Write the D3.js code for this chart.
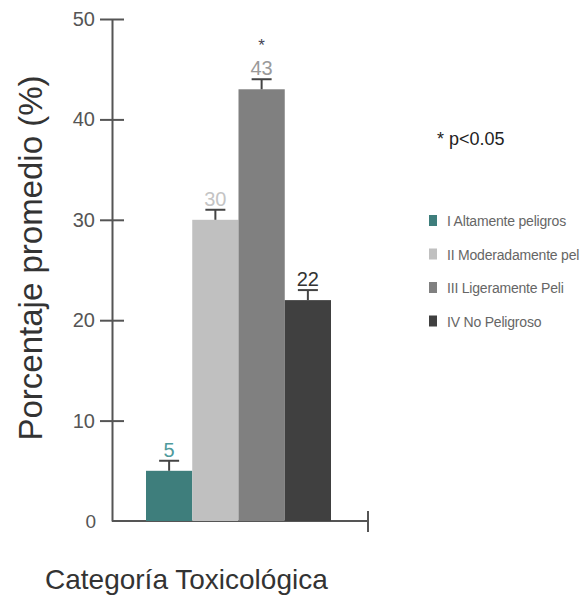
<!DOCTYPE html>
<html>
<head>
<meta charset="utf-8">
<script src="https://cdn.jsdelivr.net/npm/d3@7"></script>
<style>
  body { margin: 0; background: #fff; }
  text { font-family: Arial, "Liberation Sans", sans-serif; }
</style>
</head>
<body>
<script>
/* datos del grafico */
var categorias = ["I Altamente peligros", "II Moderadamente pel", "III Ligeramente Peli", "IV No Peligroso"];
var valores = [5, 30, 43, 22];
var errores = [1, 1, 1, 1];
var significativo = [false, false, true, false];
var yTicks = [10, 20, 30, 40, 50];

var colores = ["#3e7e7c", "#c0c0c0", "#808080", "#404040"];
var coloresEtiqueta = ["#4f9a9c", "#c4c4c4", "#9a9a9a", "#333333"];

var svg = d3.select("body")
            .append("svg")
            .attr("width", 581)
            .attr("height", 600);

var y = d3.scaleLinear().domain([0, 50]).range([521, 19]);
var x = d3.scaleBand().domain(categorias).range([146, 331]).padding(0);

/* eje y */
var ejeY = svg.append("g")
              .attr("transform", "translate(112,0)")
              .call(d3.axisLeft(y).tickValues(yTicks).tickSizeOuter(0).tickSizeInner(12).tickPadding(5));
ejeY.select(".domain").attr("stroke", "#555").attr("stroke-width", 2);
ejeY.selectAll(".tick line").attr("x1", -12).attr("x2", 12).attr("stroke", "#555").attr("stroke-width", 2);
ejeY.selectAll(".tick text")
    .attr("font-size", 20)
    .attr("fill", "#555")
    .style("font-family", "Arial, 'Liberation Sans', sans-serif");

/* etiqueta 0 sin tick */
svg.append("text")
   .attr("x", 96).attr("y", y(0) + 7)
   .attr("text-anchor", "end")
   .attr("font-size", 19)
   .attr("fill", "#555")
   .text("0");

/* eje x */
svg.append("line")
   .attr("x1", 112).attr("x2", 368)
   .attr("y1", y(0)).attr("y2", y(0))
   .attr("stroke", "#555").attr("stroke-width", 2);
svg.append("line")
   .attr("x1", 368).attr("x2", 368)
   .attr("y1", y(0) - 10).attr("y2", y(0) + 11)
   .attr("stroke", "#555").attr("stroke-width", 2);

/* barras */
svg.selectAll("rect.barra")
   .data(valores)
   .enter()
   .append("rect")
   .attr("class", "barra")
   .attr("x", function(d, i) { return x(categorias[i]); })
   .attr("y", function(d) { return y(d); })
   .attr("width", x.bandwidth())
   .attr("height", function(d) { return y(0) - y(d); })
   .attr("fill", function(d, i) { return colores[i]; });

/* barras de error */
var err = svg.selectAll("g.error")
             .data(valores)
             .enter()
             .append("g")
             .attr("class", "error");
err.append("line")
   .attr("x1", function(d, i) { return x(categorias[i]) + x.bandwidth() / 2; })
   .attr("x2", function(d, i) { return x(categorias[i]) + x.bandwidth() / 2; })
   .attr("y1", function(d) { return y(d); })
   .attr("y2", function(d, i) { return y(d + errores[i]); })
   .attr("stroke", "#444").attr("stroke-width", 2);
err.append("line")
   .attr("x1", function(d, i) { return x(categorias[i]) + x.bandwidth() / 2 - 10; })
   .attr("x2", function(d, i) { return x(categorias[i]) + x.bandwidth() / 2 + 10; })
   .attr("y1", function(d, i) { return y(d + errores[i]); })
   .attr("y2", function(d, i) { return y(d + errores[i]); })
   .attr("stroke", "#444").attr("stroke-width", 2);

/* etiquetas de valor */
svg.selectAll("text.valor")
   .data(valores)
   .enter()
   .append("text")
   .attr("class", "valor")
   .attr("x", function(d, i) { return x(categorias[i]) + x.bandwidth() / 2; })
   .attr("y", function(d, i) { return y(d + errores[i]) - 4; })
   .attr("text-anchor", "middle")
   .attr("font-size", 20)
   .attr("fill", function(d, i) { return coloresEtiqueta[i]; })
   .text(function(d) { return d; });

/* asterisco */
svg.selectAll("text.asterisco")
   .data(valores.filter(function(d, i) { return significativo[i]; }))
   .enter()
   .append("text")
   .attr("class", "asterisco")
   .attr("x", function(d) { return x(categorias[valores.indexOf(d)]) + x.bandwidth() / 2; })
   .attr("y", function(d) { return y(d + 1) - 28; })
   .attr("text-anchor", "middle")
   .attr("font-size", 17)
   .attr("fill", "#445")
   .text("*");

/* titulos */
svg.append("text")
   .attr("transform", "translate(42,258) rotate(-90)")
   .attr("text-anchor", "middle")
   .attr("font-size", 33)
   .attr("fill", "#333")
   .text("Porcentaje promedio (%)");

svg.append("text")
   .attr("x", 45).attr("y", 589)
   .attr("font-size", 28)
   .attr("fill", "#333")
   .text("Categoría Toxicológica");

/* leyenda */
svg.append("text")
   .attr("x", 437).attr("y", 145)
   .attr("font-size", 18)
   .attr("fill", "#222")
   .text("* p<0.05");

var leyenda = svg.selectAll("g.leyenda")
                 .data(categorias)
                 .enter()
                 .append("g")
                 .attr("class", "leyenda")
                 .attr("transform", function(d, i) { return "translate(429," + (215 + i * 33.5) + ")"; });
leyenda.append("rect")
       .attr("width", 8).attr("height", 11)
       .attr("fill", function(d, i) { return colores[i]; });
leyenda.append("text")
       .attr("x", 18).attr("y", 11)
       .attr("font-size", 14)
       .attr("letter-spacing", -0.2)
       .attr("fill", "#666")
       .text(function(d) { return d; });
</script>
</body>
</html>
